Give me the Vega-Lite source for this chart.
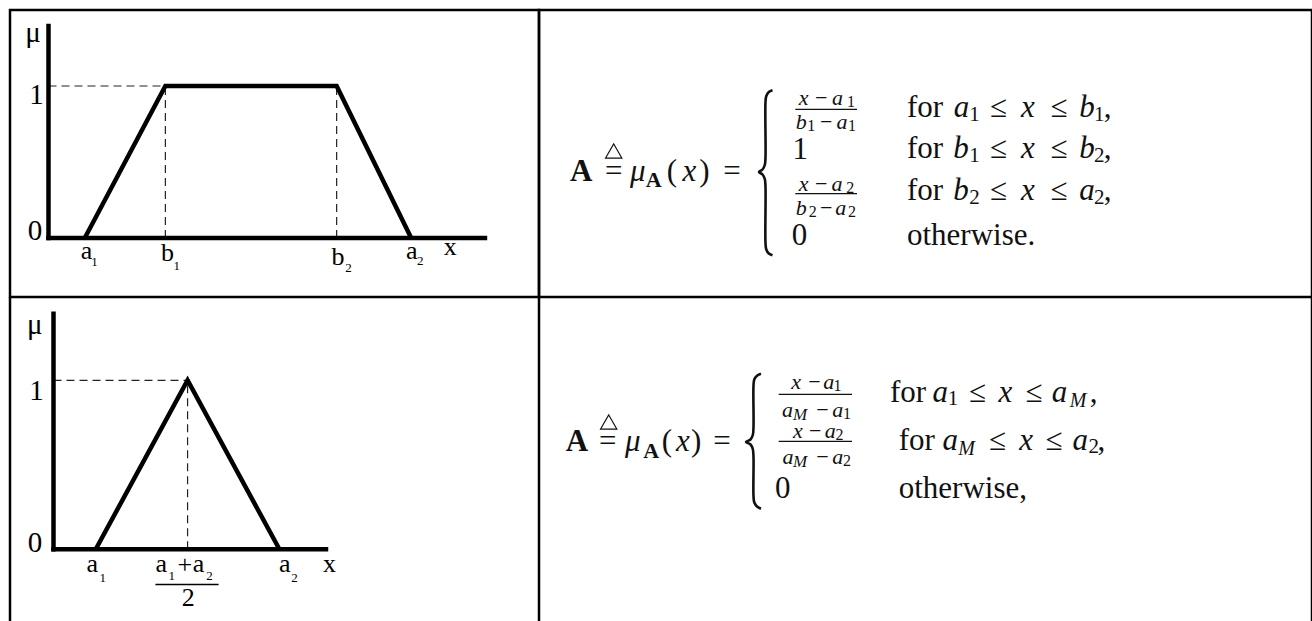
{
  "$schema": "https://vega.github.io/schema/vega-lite/v6.json",
  "padding": {"left": 8, "top": 8, "right": 2, "bottom": 0},
  "background": "white",
  "config": {
    "view": {"stroke": "black", "strokeWidth": 2.5},
    "concat": {"spacing": 0},
    "text": {"font": "Liberation Serif", "align": "center", "baseline": "alphabetic", "color": "#111"}
  },
  "datasets": {
    "tl_axes": [{"x": 0, "y": 0, "x2": 0, "y2": 1.395}, {"x": 0, "y": 0, "x2": 10.83, "y2": 0}],
    "tl_guides": [{"x": 0, "y": 1, "x2": 2.9, "y2": 1}, {"x": 2.9, "y": 0, "x2": 2.9, "y2": 1}, {"x": 7.15, "y": 0, "x2": 7.15, "y2": 1}],
    "tl_mu": [{"x": 0.9, "y": 0, "i": 0}, {"x": 2.9, "y": 1, "i": 1}, {"x": 7.15, "y": 1, "i": 2}, {"x": 9.0, "y": 0, "i": 3}],
    "tl_ticks": [{"x": -0.385, "y": 1.289, "t": "μ"}, {"x": -0.298, "y": 0.884, "t": "1"}, {"x": -0.335, "y": -0.013, "t": "0"}],
    "tl_labels": [{"x": 0.943, "y": -0.138, "t": "a"}, {"x": 2.953, "y": -0.151, "t": "b"}, {"x": 7.184, "y": -0.178, "t": "b"}, {"x": 9.012, "y": -0.138, "t": "a"}, {"x": 9.97, "y": -0.112, "t": "x"}],
    "tl_subs": [{"x": 1.139, "y": -0.184, "t": "1"}, {"x": 3.184, "y": -0.211, "t": "1"}, {"x": 7.444, "y": -0.224, "t": "2"}, {"x": 9.226, "y": -0.178, "t": "2"}],

    "bl_axes": [{"x": 0, "y": 0, "x2": 0, "y2": 1.394}, {"x": 0, "y": 0, "x2": 6.646, "y2": 0}],
    "bl_guides": [{"x": 0, "y": 1, "x2": 3.27, "y2": 1}, {"x": 3.27, "y": 0, "x2": 3.27, "y2": 1}],
    "bl_mu": [{"x": 1.03, "y": 0, "i": 0}, {"x": 3.27, "y": 1, "i": 1}, {"x": 5.51, "y": 0, "i": 2}],
    "bl_ticks": [{"x": -0.456, "y": 1.274, "t": "μ"}, {"x": -0.415, "y": 0.883, "t": "1"}, {"x": -0.451, "y": -0.016, "t": "0"}],
    "bl_labels": [{"x": 0.946, "y": -0.134, "t": "a"}, {"x": 2.629, "y": -0.134, "t": "a"}, {"x": 3.202, "y": -0.14, "t": "+"}, {"x": 3.539, "y": -0.134, "t": "a"}, {"x": 5.641, "y": -0.134, "t": "a"}, {"x": 6.734, "y": -0.134, "t": "x"}, {"x": 3.285, "y": -0.336, "t": "2"}],
    "bl_subs": [{"x": 1.2, "y": -0.193, "t": "1"}, {"x": 2.883, "y": -0.182, "t": "1"}, {"x": 3.807, "y": -0.182, "t": "2"}, {"x": 5.876, "y": -0.193, "t": "2"}],
    "bl_bar": [{"x": 2.485, "y": -0.209, "x2": 4.027, "y2": -0.209}],
    "bl_frame": [{"x": -1.061, "y": -0.4361, "x2": -1.061, "y2": 1.4929}, {"x": 11.841, "y": -0.4361, "x2": 11.841, "y2": 1.4929}],

    "f1_bold": [{"x": 12.2, "y": 0, "t": "A"}],
    "f1_boldsub": [{"x": 84.7, "y": -6, "t": "A"}],
    "f1_roman": [
      {"x": 44.7, "y": 0, "t": "="}, {"x": 103, "y": 0, "t": "("}, {"x": 135.3, "y": 0, "t": ")"}, {"x": 163, "y": 0, "t": "="},
      {"x": 231.3, "y": 22, "t": "1"}, {"x": 230.5, "y": -64, "t": "0"},
      {"x": 429.7, "y": 64, "t": "≤"}, {"x": 490.3, "y": 64, "t": "≤"}, {"x": 538.5, "y": 64, "t": ","},
      {"x": 429.7, "y": 23, "t": "≤"}, {"x": 490.3, "y": 23, "t": "≤"}, {"x": 538.5, "y": 23, "t": ","},
      {"x": 429.7, "y": -19, "t": "≤"}, {"x": 490.3, "y": -19, "t": "≤"}, {"x": 538.5, "y": -19, "t": ","}
    ],
    "f1_italic": [
      {"x": 68.8, "y": 0, "t": "μ"}, {"x": 120.3, "y": 0, "t": "x"},
      {"x": 392.5, "y": 64, "t": "a"}, {"x": 458.8, "y": 64, "t": "x"}, {"x": 518, "y": 64, "t": "b"},
      {"x": 392, "y": 23, "t": "b"}, {"x": 458.8, "y": 23, "t": "x"}, {"x": 518, "y": 23, "t": "b"},
      {"x": 392, "y": -19, "t": "b"}, {"x": 458.8, "y": -19, "t": "x"}, {"x": 518, "y": -19, "t": "a"}
    ],
    "f1_rowsub": [
      {"x": 405.5, "y": 60, "t": "1"}, {"x": 530.3, "y": 60, "t": "1"},
      {"x": 405.5, "y": 19, "t": "1"}, {"x": 530.3, "y": 19, "t": "2"},
      {"x": 405.5, "y": -23, "t": "2"}, {"x": 530.3, "y": -23, "t": "2"}
    ],
    "f1_words": [{"x": 338, "y": 64, "t": "for"}, {"x": 338, "y": 23, "t": "for"}, {"x": 338, "y": -19, "t": "for"}, {"x": 338, "y": -64, "t": "otherwise."}],
    "f1_script": [
      {"x": 234.7, "y": 75.7, "t": "x"}, {"x": 268.5, "y": 75.7, "t": "a"}, {"x": 232.2, "y": 51.7, "t": "b"}, {"x": 273, "y": 51.7, "t": "a"},
      {"x": 234.7, "y": -9.5, "t": "x"}, {"x": 268, "y": -9.5, "t": "a"}, {"x": 232.2, "y": -34.3, "t": "b"}, {"x": 271.8, "y": -34.3, "t": "a"}
    ],
    "f1_scriptop": [{"x": 252.2, "y": 75.7, "t": "−"}, {"x": 257.2, "y": 51.7, "t": "−"}, {"x": 252.2, "y": -9.5, "t": "−"}, {"x": 257.2, "y": -34.3, "t": "−"}],
    "f1_scriptsub": [
      {"x": 282, "y": 74, "t": "1"}, {"x": 242.2, "y": 49.7, "t": "1"}, {"x": 283, "y": 49.7, "t": "1"},
      {"x": 281.3, "y": -11.5, "t": "2"}, {"x": 243.8, "y": -36.3, "t": "2"}, {"x": 283, "y": -36.3, "t": "2"}
    ],
    "f1_bars": [{"x": 226.3, "y": 71.7, "x2": 288, "y2": 71.7}, {"x": 226.3, "y": -12.7, "x2": 288, "y2": -12.7}],
    "f1_brace": [
      {"x": 203.5, "y": 90.7, "i": 0}, {"x": 199.8, "y": 89, "i": 1}, {"x": 197.3, "y": 85, "i": 2}, {"x": 196.5, "y": 79, "i": 3},
      {"x": 196.5, "y": 24, "i": 4}, {"x": 195.8, "y": 16, "i": 5}, {"x": 193.5, "y": 11.5, "i": 6}, {"x": 190, "y": 9, "i": 7},
      {"x": 193.5, "y": 6.5, "i": 8}, {"x": 195.8, "y": 2, "i": 9}, {"x": 196.5, "y": -6, "i": 10}, {"x": 196.5, "y": -62, "i": 11},
      {"x": 197.3, "y": -68.5, "i": 12}, {"x": 199.8, "y": -72.5, "i": 13}, {"x": 203.5, "y": -74.3, "i": 14}
    ],
    "f1_tri": [{"x": 44.7, "y": 30}],

    "f2_bold": [{"x": 10, "y": 0, "t": "A"}],
    "f2_boldsub": [{"x": 84.2, "y": -7, "t": "A"}],
    "f2_roman": [
      {"x": 40.8, "y": 0, "t": "="}, {"x": 100, "y": 0, "t": "("}, {"x": 129.2, "y": 0, "t": ")"}, {"x": 155, "y": 0, "t": "="},
      {"x": 215.8, "y": -46.7, "t": "0"},
      {"x": 410.8, "y": 49, "t": "≤"}, {"x": 467.3, "y": 49, "t": "≤"}, {"x": 526.5, "y": 49, "t": ","},
      {"x": 430.8, "y": 1, "t": "≤"}, {"x": 487.3, "y": 1, "t": "≤"}, {"x": 534.3, "y": 1, "t": ","}
    ],
    "f2_italic": [
      {"x": 65.8, "y": 0, "t": "μ"}, {"x": 115.8, "y": 0, "t": "x"},
      {"x": 373.3, "y": 49, "t": "a"}, {"x": 438.3, "y": 49, "t": "x"}, {"x": 492.5, "y": 49, "t": "a"},
      {"x": 383.3, "y": 1, "t": "a"}, {"x": 459, "y": 1, "t": "x"}, {"x": 513.3, "y": 1, "t": "a"}
    ],
    "f2_rowsub": [{"x": 386, "y": 46, "t": "1"}, {"x": 526.7, "y": -2, "t": "2"}],
    "f2_rowsubit": [{"x": 511, "y": 44, "t": "M"}, {"x": 399.5, "y": -4, "t": "M"}],
    "f2_words": [{"x": 323, "y": 49, "t": "for"}, {"x": 331.7, "y": 1, "t": "for"}, {"x": 331.7, "y": -46.7, "t": "otherwise,"}],
    "f2_script": [
      {"x": 229.2, "y": 61.7, "t": "x"}, {"x": 261.7, "y": 61.7, "t": "a"}, {"x": 220.5, "y": 34, "t": "a"}, {"x": 270.8, "y": 34, "t": "a"},
      {"x": 230.8, "y": 13, "t": "x"}, {"x": 263.3, "y": 13, "t": "a"}, {"x": 221, "y": -12.7, "t": "a"}, {"x": 270.8, "y": -12.7, "t": "a"}
    ],
    "f2_scriptop": [{"x": 247.5, "y": 61.7, "t": "−"}, {"x": 255.5, "y": 34, "t": "−"}, {"x": 248.3, "y": 13, "t": "−"}, {"x": 255.5, "y": -12.7, "t": "−"}],
    "f2_scriptsub": [{"x": 270.5, "y": 60, "t": "1"}, {"x": 280, "y": 32, "t": "1"}, {"x": 272.5, "y": 11, "t": "2"}, {"x": 280, "y": -14.7, "t": "2"}],
    "f2_scriptsubit": [{"x": 233, "y": 30.7, "t": "M"}, {"x": 233, "y": -16, "t": "M"}],
    "f2_bars": [{"x": 211.7, "y": 56.7, "x2": 285, "y2": 56.7}, {"x": 211.7, "y": 9.7, "x2": 285, "y2": 9.7}],
    "f2_brace": [
      {"x": 194, "y": 77.3, "i": 0}, {"x": 190.3, "y": 75.6, "i": 1}, {"x": 187.3, "y": 71.6, "i": 2}, {"x": 186.5, "y": 65.6, "i": 3},
      {"x": 186.5, "y": 24, "i": 4}, {"x": 185.8, "y": 16, "i": 5}, {"x": 183.5, "y": 11.5, "i": 6}, {"x": 179, "y": 9, "i": 7},
      {"x": 183.5, "y": 6.5, "i": 8}, {"x": 185.8, "y": 2, "i": 9}, {"x": 186.5, "y": -6, "i": 10}, {"x": 186.5, "y": -45, "i": 11},
      {"x": 187.3, "y": -51.5, "i": 12}, {"x": 190.3, "y": -55.7, "i": 13}, {"x": 194, "y": -57.7, "i": 14}
    ],
    "f2_tri": [{"x": 41.7, "y": 29}],
    "br_frame": [{"x": 745, "y": -172, "x2": 745, "y2": 154}]
  },
  "columns": 2,
  "spacing": 0,
  "bounds": "flush",
  "concat": [
    {
      "width": 529,
      "height": 287,
      "encoding": {
        "x": {"field": "x", "type": "quantitative", "axis": null, "scale": {"domain": [-0.9553, 12.171], "nice": false, "zero": false}},
        "y": {"field": "y", "type": "quantitative", "axis": null, "scale": {"domain": [-0.3882, 1.5], "nice": false, "zero": false}}
      },
      "layer": [
        {"data": {"name": "tl_guides"}, "mark": {"type": "rule", "strokeDash": [8, 5], "strokeWidth": 1.2, "color": "#222"}, "encoding": {"x2": {"field": "x2"}, "y2": {"field": "y2"}}},
        {"data": {"name": "tl_axes"}, "mark": {"type": "rule", "strokeWidth": 4.5, "color": "black", "strokeCap": "square"}, "encoding": {"x2": {"field": "x2"}, "y2": {"field": "y2"}}},
        {"data": {"name": "tl_mu"}, "mark": {"type": "line", "strokeWidth": 4.5, "color": "black", "strokeJoin": "miter"}, "encoding": {"order": {"field": "i", "type": "quantitative"}}},
        {"data": {"name": "tl_ticks"}, "mark": {"type": "text", "font": "Liberation Serif", "fontSize": 29, "color": "black"}, "encoding": {"text": {"field": "t"}}},
        {"data": {"name": "tl_labels"}, "mark": {"type": "text", "font": "Liberation Serif", "fontSize": 26, "color": "black"}, "encoding": {"text": {"field": "t"}}},
        {"data": {"name": "tl_subs"}, "mark": {"type": "text", "font": "Liberation Serif", "fontSize": 13, "color": "black"}, "encoding": {"text": {"field": "t"}}}
      ]
    },
    {
      "width": 773,
      "height": 287,
      "encoding": {
        "x": {"field": "x", "type": "quantitative", "axis": null, "scale": {"domain": [-30, 743], "nice": false, "zero": false}},
        "y": {"field": "y", "type": "quantitative", "axis": null, "scale": {"domain": [-116, 171], "nice": false, "zero": false}}
      },
      "layer": [
        {"data": {"name": "f1_bold"}, "mark": {"type": "text", "font": "Liberation Serif", "fontSize": 31, "fontWeight": "bold"}, "encoding": {"text": {"field": "t"}}},
        {"data": {"name": "f1_boldsub"}, "mark": {"type": "text", "font": "Liberation Serif", "fontSize": 22, "fontWeight": "bold"}, "encoding": {"text": {"field": "t"}}},
        {"data": {"name": "f1_roman"}, "mark": {"type": "text", "font": "Liberation Serif", "fontSize": 31}, "encoding": {"text": {"field": "t"}}},
        {"data": {"name": "f1_italic"}, "mark": {"type": "text", "font": "Liberation Serif", "fontSize": 31, "fontStyle": "italic"}, "encoding": {"text": {"field": "t"}}},
        {"data": {"name": "f1_rowsub"}, "mark": {"type": "text", "font": "Liberation Serif", "fontSize": 21}, "encoding": {"text": {"field": "t"}}},
        {"data": {"name": "f1_words"}, "mark": {"type": "text", "font": "Liberation Serif", "fontSize": 31, "align": "left"}, "encoding": {"text": {"field": "t"}}},
        {"data": {"name": "f1_script"}, "mark": {"type": "text", "font": "Liberation Serif", "fontSize": 22, "fontStyle": "italic"}, "encoding": {"text": {"field": "t"}}},
        {"data": {"name": "f1_scriptop"}, "mark": {"type": "text", "font": "Liberation Serif", "fontSize": 22}, "encoding": {"text": {"field": "t"}}},
        {"data": {"name": "f1_scriptsub"}, "mark": {"type": "text", "font": "Liberation Serif", "fontSize": 16}, "encoding": {"text": {"field": "t"}}},
        {"data": {"name": "f1_bars"}, "mark": {"type": "rule", "strokeWidth": 1.2, "color": "#111"}, "encoding": {"x2": {"field": "x2"}, "y2": {"field": "y2"}}},
        {"data": {"name": "f1_brace"}, "mark": {"type": "line", "interpolate": "catmull-rom", "strokeWidth": 2.6, "color": "#111"}, "encoding": {"order": {"field": "i", "type": "quantitative"}}},
        {"data": {"name": "f1_tri"}, "mark": {"type": "point", "shape": "triangle-up", "filled": false, "size": 270, "strokeWidth": 1.1, "color": "#111", "opacity": 1}}
      ]
    },
    {
      "width": 529,
      "height": 326,
      "view": {"stroke": null},
      "encoding": {
        "x": {"field": "x", "type": "quantitative", "axis": null, "scale": {"domain": [-1.061, 11.841], "nice": false, "zero": false}},
        "y": {"field": "y", "type": "quantitative", "axis": null, "scale": {"domain": [-0.4361, 1.4929], "nice": false, "zero": false}}
      },
      "layer": [
        {"data": {"name": "bl_frame"}, "mark": {"type": "rule", "strokeWidth": 2.5, "color": "black"}, "encoding": {"x2": {"field": "x2"}, "y2": {"field": "y2"}}},
        {"data": {"name": "bl_guides"}, "mark": {"type": "rule", "strokeDash": [8, 5], "strokeWidth": 1.2, "color": "#222"}, "encoding": {"x2": {"field": "x2"}, "y2": {"field": "y2"}}},
        {"data": {"name": "bl_axes"}, "mark": {"type": "rule", "strokeWidth": 4.5, "color": "black", "strokeCap": "square"}, "encoding": {"x2": {"field": "x2"}, "y2": {"field": "y2"}}},
        {"data": {"name": "bl_mu"}, "mark": {"type": "line", "strokeWidth": 4.5, "color": "black", "strokeJoin": "miter"}, "encoding": {"order": {"field": "i", "type": "quantitative"}}},
        {"data": {"name": "bl_ticks"}, "mark": {"type": "text", "font": "Liberation Serif", "fontSize": 29, "color": "black"}, "encoding": {"text": {"field": "t"}}},
        {"data": {"name": "bl_labels"}, "mark": {"type": "text", "font": "Liberation Serif", "fontSize": 26, "color": "black"}, "encoding": {"text": {"field": "t"}}},
        {"data": {"name": "bl_subs"}, "mark": {"type": "text", "font": "Liberation Serif", "fontSize": 13, "color": "black"}, "encoding": {"text": {"field": "t"}}},
        {"data": {"name": "bl_bar"}, "mark": {"type": "rule", "strokeWidth": 1.5, "color": "black"}, "encoding": {"x2": {"field": "x2"}, "y2": {"field": "y2"}}}
      ]
    },
    {
      "width": 773,
      "height": 326,
      "view": {"stroke": null},
      "encoding": {
        "x": {"field": "x", "type": "quantitative", "axis": null, "scale": {"domain": [-28, 745], "nice": false, "zero": false}},
        "y": {"field": "y", "type": "quantitative", "axis": null, "scale": {"domain": [-172, 154], "nice": false, "zero": false}}
      },
      "layer": [
        {"data": {"name": "br_frame"}, "mark": {"type": "rule", "strokeWidth": 2.5, "color": "black"}, "encoding": {"x2": {"field": "x2"}, "y2": {"field": "y2"}}},
        {"data": {"name": "f2_bold"}, "mark": {"type": "text", "font": "Liberation Serif", "fontSize": 31, "fontWeight": "bold"}, "encoding": {"text": {"field": "t"}}},
        {"data": {"name": "f2_boldsub"}, "mark": {"type": "text", "font": "Liberation Serif", "fontSize": 22, "fontWeight": "bold"}, "encoding": {"text": {"field": "t"}}},
        {"data": {"name": "f2_roman"}, "mark": {"type": "text", "font": "Liberation Serif", "fontSize": 31}, "encoding": {"text": {"field": "t"}}},
        {"data": {"name": "f2_italic"}, "mark": {"type": "text", "font": "Liberation Serif", "fontSize": 31, "fontStyle": "italic"}, "encoding": {"text": {"field": "t"}}},
        {"data": {"name": "f2_rowsub"}, "mark": {"type": "text", "font": "Liberation Serif", "fontSize": 21}, "encoding": {"text": {"field": "t"}}},
        {"data": {"name": "f2_rowsubit"}, "mark": {"type": "text", "font": "Liberation Serif", "fontSize": 20, "fontStyle": "italic"}, "encoding": {"text": {"field": "t"}}},
        {"data": {"name": "f2_words"}, "mark": {"type": "text", "font": "Liberation Serif", "fontSize": 31, "align": "left"}, "encoding": {"text": {"field": "t"}}},
        {"data": {"name": "f2_script"}, "mark": {"type": "text", "font": "Liberation Serif", "fontSize": 22, "fontStyle": "italic"}, "encoding": {"text": {"field": "t"}}},
        {"data": {"name": "f2_scriptop"}, "mark": {"type": "text", "font": "Liberation Serif", "fontSize": 22}, "encoding": {"text": {"field": "t"}}},
        {"data": {"name": "f2_scriptsub"}, "mark": {"type": "text", "font": "Liberation Serif", "fontSize": 16}, "encoding": {"text": {"field": "t"}}},
        {"data": {"name": "f2_scriptsubit"}, "mark": {"type": "text", "font": "Liberation Serif", "fontSize": 17, "fontStyle": "italic"}, "encoding": {"text": {"field": "t"}}},
        {"data": {"name": "f2_bars"}, "mark": {"type": "rule", "strokeWidth": 1.2, "color": "#111"}, "encoding": {"x2": {"field": "x2"}, "y2": {"field": "y2"}}},
        {"data": {"name": "f2_brace"}, "mark": {"type": "line", "interpolate": "catmull-rom", "strokeWidth": 2.6, "color": "#111"}, "encoding": {"order": {"field": "i", "type": "quantitative"}}},
        {"data": {"name": "f2_tri"}, "mark": {"type": "point", "shape": "triangle-up", "filled": false, "size": 270, "strokeWidth": 1.1, "color": "#111", "opacity": 1}}
      ]
    }
  ]
}
